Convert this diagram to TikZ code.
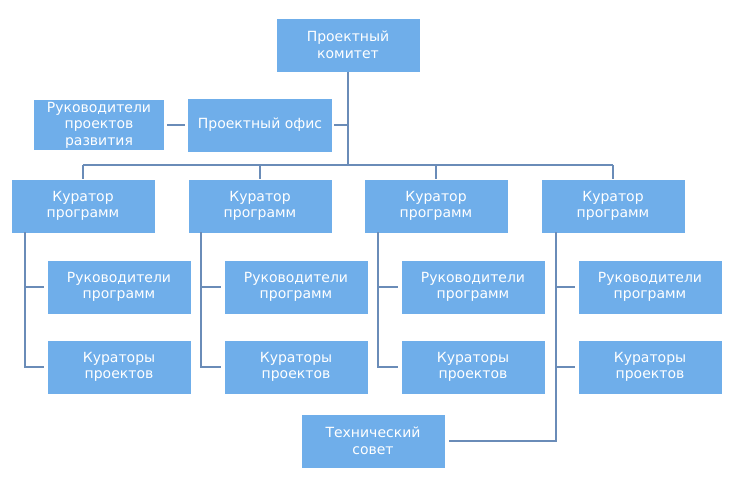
\documentclass[tikz,border=0pt]{standalone}
\usepackage{fontspec}
\setmainfont{DejaVu Sans}
\usepackage{xcolor}
\usetikzlibrary{positioning}

\definecolor{boxblue}{RGB}{111,174,234}
\definecolor{lineblue}{RGB}{106,140,184}

\tikzset{
  orgbox/.style={fill=boxblue, text=white, align=center, inner sep=0pt,
                 minimum width=143pt, minimum height=53pt,
                 font=\fontsize{14}{16.5}\selectfont},
  link/.style={draw=lineblue, line width=1.8pt}
}

\begin{document}
\begin{tikzpicture}[x=1pt,y=-1pt]
  \useasboundingbox (0,0) rectangle (746,480);

  \node[orgbox] (com) at (348,45)  {Проектный\\комитет};
  \node[orgbox, minimum width=144pt] (off) at (260,125) {Проектный офис};
  \node[orgbox, minimum width=130pt, minimum height=50pt] (dev) at (99,125) {Руководители\\проектов\\развития};

  \node[orgbox] (cur1) at (83,206)  {Куратор\\программ};
  \node[orgbox] (cur2) at (260,206) {Куратор\\программ};
  \node[orgbox] (cur3) at (436,206) {Куратор\\программ};
  \node[orgbox] (cur4) at (613,206) {Куратор\\программ};

  \node[orgbox] (head1) at (119,287) {Руководители\\программ};
  \node[orgbox] (head2) at (296,287) {Руководители\\программ};
  \node[orgbox] (head3) at (473,287) {Руководители\\программ};
  \node[orgbox] (head4) at (650,287) {Руководители\\программ};

  \node[orgbox] (proj1) at (119,367) {Кураторы\\проектов};
  \node[orgbox] (proj2) at (296,367) {Кураторы\\проектов};
  \node[orgbox] (proj3) at (473,367) {Кураторы\\проектов};
  \node[orgbox] (proj4) at (650,367) {Кураторы\\проектов};

  \node[orgbox] (tech) at (373,441) {Технический\\совет};

  % top level
  \coordinate (bus) at (348,165);
  \draw[link] (com.south) -- (bus);
  \draw[link] ([xshift=2pt]off.east) -- (off.east -| com.south);
  \draw[link] ([xshift=3pt]dev.east) -- ([xshift=-3pt]off.west);
  \draw[link] (bus -| cur1.north) -- (bus -| cur4.north);
  \foreach \i in {1,...,4}
    \draw[link] (bus -| cur\i.north) -- (cur\i.north);

  % curator branches
  \foreach \i/\bx in {1/25,2/201,3/378,4/556} {
    \draw[link] (\bx,232) |- ([xshift=-3pt]proj\i.west);
    \draw[link] (\bx,287) -- ([xshift=-3pt]head\i.west);
  }
  \draw[link] (556,367) |- ([xshift=4pt]tech.east);
\end{tikzpicture}
\end{document}
